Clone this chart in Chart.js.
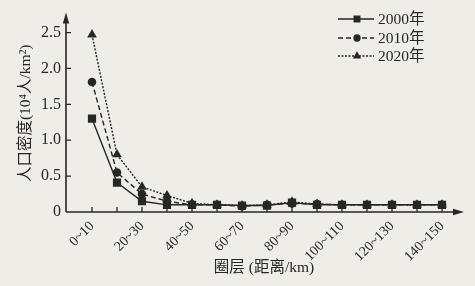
<!DOCTYPE html>
<html>
<head>
<meta charset="utf-8">
<script src="https://cdn.jsdelivr.net/npm/chart.js@4.4.0/dist/chart.umd.min.js"></script>
<style>
  html, body { margin: 0; padding: 0; background: #efede7; }
  #wrap { width: 475px; height: 286px; }
</style>
</head>
<body>
<div id="wrap"><canvas id="chart"></canvas></div>
<script>
// Data
const rings = ['0~10', '10~20', '20~30', '30~40', '40~50', '50~60', '60~70', '70~80',
               '80~90', '90~100', '100~110', '110~120', '120~130', '130~140', '140~150'];
const density2000 = [1.30, 0.41, 0.15, 0.10, 0.10, 0.10, 0.09, 0.09, 0.13, 0.10, 0.10, 0.10, 0.10, 0.10, 0.10];
const density2010 = [1.81, 0.55, 0.25, 0.15, 0.10, 0.10, 0.08, 0.10, 0.12, 0.11, 0.10, 0.10, 0.10, 0.10, 0.10];
const density2020 = [2.47, 0.80, 0.35, 0.23, 0.12, 0.10, 0.09, 0.10, 0.14, 0.11, 0.10, 0.10, 0.10, 0.10, 0.10];
const densityTicks = [0, 0.5, 1.0, 1.5, 2.0, 2.5];
const seriesNames = ['2000年', '2010年', '2020年'];

const ink = '#262626';
const serif = '"Liberation Serif", "DejaVu Serif", "Noto Sans CJK SC", serif';

const styles = [
    { dash: [], pointStyle: 'rect', radius: 5.8 },
    { dash: [5, 3], pointStyle: 'circle', radius: 4.3 },
    { dash: [2, 1.5], pointStyle: 'triangle', radius: 5.6 }
];

function toPoints(values) {
    return values.map((v, i) => ({ x: i, y: v }));
}

const seriesValues = [density2000, density2010, density2020];
const datasets = seriesValues.map((vals, k) => ({
    label: seriesNames[k],
    data: toPoints(vals),
    borderColor: ink,
    backgroundColor: ink,
    borderWidth: 1.4,
    borderDash: styles[k].dash,
    pointStyle: styles[k].pointStyle,
    pointRadius: styles[k].radius,
    pointBorderWidth: 0,
    pointBackgroundColor: ink,
    tension: 0
}));

// axes with arrows and inward ticks
const axisArrows = {
    id: 'axisArrows',
    afterDatasetsDraw(chart) {
        const { ctx, chartArea: a, scales: { x, y } } = chart;
        ctx.save();
        ctx.strokeStyle = ink;
        ctx.fillStyle = ink;
        ctx.lineWidth = 1.6;
        ctx.setLineDash([]);
        ctx.beginPath();
        ctx.moveTo(a.left, a.bottom);
        ctx.lineTo(a.left, a.top + 4);
        ctx.moveTo(a.left, a.bottom);
        ctx.lineTo(a.right - 4, a.bottom);
        ctx.stroke();
        // arrow heads
        ctx.beginPath();
        ctx.moveTo(a.left, a.top - 2);
        ctx.lineTo(a.left - 3.2, a.top + 9);
        ctx.lineTo(a.left + 3.2, a.top + 9);
        ctx.closePath();
        ctx.fill();
        ctx.beginPath();
        ctx.moveTo(a.right + 2, a.bottom);
        ctx.lineTo(a.right - 9, a.bottom - 3.2);
        ctx.lineTo(a.right - 9, a.bottom + 3.2);
        ctx.closePath();
        ctx.fill();
        ctx.lineWidth = 1.3;
        ctx.beginPath();
        densityTicks.forEach(v => {
            if (v === 0) return;
            const py = y.getPixelForValue(v);
            ctx.moveTo(a.left, py);
            ctx.lineTo(a.left + 5, py);
        });
        rings.forEach((r, i) => {
            const px = x.getPixelForValue(i);
            ctx.moveTo(px, a.bottom);
            ctx.lineTo(px, a.bottom - 5);
        });
        ctx.stroke();
        ctx.restore();
    }
};

// vertical legend with line samples, top right
const lineLegend = {
    id: 'lineLegend',
    afterDraw(chart) {
        const { ctx, chartArea: a } = chart;
        const x0 = a.right - 124;
        const rows = [19, 38, 56];
        ctx.save();
        ctx.font = '15.5px ' + serif;
        ctx.textBaseline = 'middle';
        seriesNames.forEach((name, k) => {
            const yy = rows[k];
            ctx.strokeStyle = ink;
            ctx.fillStyle = ink;
            ctx.lineWidth = 1.3;
            ctx.setLineDash(styles[k].dash);
            ctx.beginPath();
            ctx.moveTo(x0, yy);
            ctx.lineTo(x0 + 36, yy);
            ctx.stroke();
            ctx.setLineDash([]);
            Chart.helpers.drawPoint(ctx, {
                pointStyle: styles[k].pointStyle,
                radius: styles[k].radius * 0.85,
                rotation: 0,
                borderWidth: 0
            }, x0 + 19, yy);
            ctx.fillStyle = ink;
            ctx.fillText(name, x0 + 40, yy + 1);
        });
        ctx.restore();
    }
};

new Chart(document.getElementById('chart'), {
    type: 'line',
    data: { datasets: datasets },
    options: {
        responsive: true,
        maintainAspectRatio: false,
        animation: false,
        layout: { padding: { top: 9, right: 13, left: 0, bottom: 0 } },
        plugins: {
            legend: { display: false },
            tooltip: { enabled: false }
        },
        scales: {
            x: {
                type: 'linear',
                min: -1.04,
                max: 14.8,
                grid: { display: false, drawTicks: false },
                border: { display: false },
                afterBuildTicks: scale => {
                    scale.ticks = rings.map((r, i) => ({ value: i }));
                },
                afterFit: scale => { scale.height = 74; },
                ticks: {
                    autoSkip: false,
                    maxRotation: 45,
                    minRotation: 45,
                    padding: 6,
                    color: ink,
                    font: { family: serif, size: 14 },
                    callback: (v, i) => (i % 2 === 0 ? rings[i] : '')
                },
                title: {
                    display: true,
                    text: '圈层 (距离/km)',
                    color: ink,
                    font: { family: serif, size: 15.5 },
                    padding: { top: 0, bottom: 9 }
                }
            },
            y: {
                min: 0,
                max: 2.75,
                grid: { display: false, drawTicks: false },
                border: { display: false },
                afterBuildTicks: scale => {
                    scale.ticks = densityTicks.map(v => ({ value: v }));
                },
                afterFit: scale => { scale.width = 66; },
                ticks: {
                    padding: 5,
                    color: ink,
                    font: { family: serif, size: 16 },
                    callback: v => (v === 0 ? '0' : v.toFixed(1))
                },
                title: {
                    display: true,
                    text: '人口密度(10⁴人/km²)',
                    color: ink,
                    font: { family: serif, size: 15.5 },
                    padding: { top: 17, bottom: 0 }
                }
            }
        }
    },
    plugins: [axisArrows, lineLegend]
});
</script>
</body>
</html>
